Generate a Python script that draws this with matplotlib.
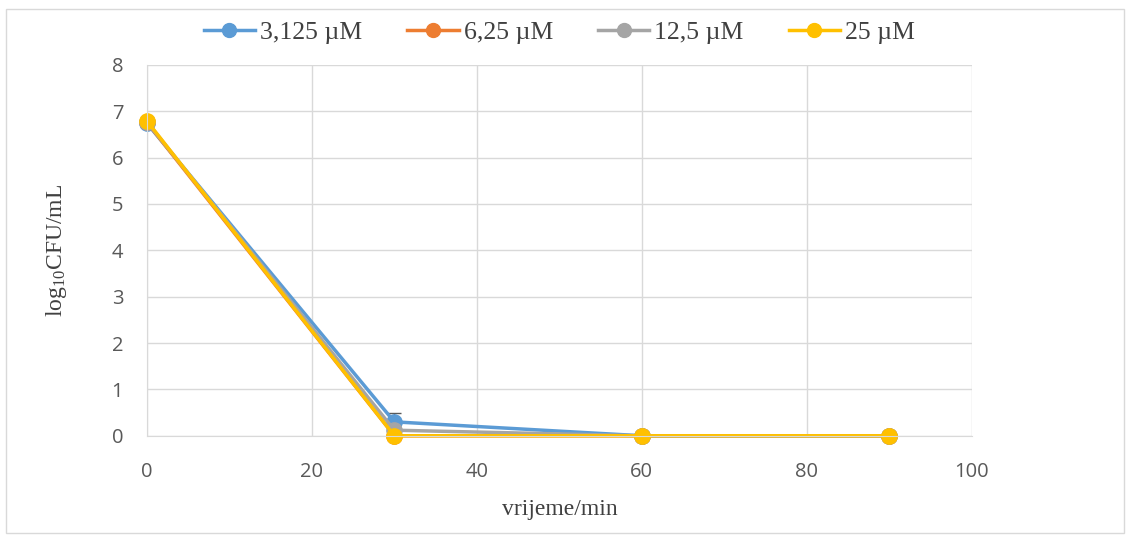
import matplotlib.pyplot as plt
from matplotlib.ticker import MultipleLocator
from matplotlib.lines import Line2D

plt.rcParams['mathtext.fontset'] = 'custom'
plt.rcParams['mathtext.rm'] = 'Liberation Serif'
plt.rcParams['mathtext.it'] = 'Liberation Serif:italic'

# time points (min)
time = [0, 30, 60, 90]

# log10 CFU/mL for each concentration
c3125 = [6.74, 0.30, 0.0, 0.0]
c625 = [6.76, 0.0, 0.0, 0.0]
c125 = [6.77, 0.12, 0.0, 0.0]
c25 = [6.79, 0.0, 0.0, 0.0]

err3125 = [0, 0.2, 0, 0]

labels = ["3,125 \u00b5M", "6,25 \u00b5M", "12,5 \u00b5M", "25 \u00b5M"]
colors = ["#5B9BD5", "#ED7D31", "#A5A5A5", "#FFC000"]

fig = plt.figure(figsize=(11.30, 5.36), dpi=100)
ax = fig.add_axes([0.130, 0.187, 0.730, 0.692])

series = [c3125, c625, c125, c25]
for i, vals in enumerate(series):
    yerr = err3125 if i == 0 else None
    lines = ax.errorbar(time, vals, yerr=yerr, color=colors[i], lw=2.5,
                        marker="o", ms=11, ecolor="#595959", elinewidth=1,
                        capsize=5, capthick=1)
    lines[0].set_clip_on(False)

ax.set_xlim(0, 100)
ax.set_ylim(0, 8)
ax.xaxis.set_major_locator(MultipleLocator(20))
ax.yaxis.set_major_locator(MultipleLocator(1))
ax.grid(True, color="#D9D9D9", lw=1)
ax.set_axisbelow(True)
for side in ["top", "right"]:
    ax.spines[side].set_visible(False)
ax.spines["left"].set_color("#D9D9D9")
ax.spines["bottom"].set_color("#D9D9D9")
ax.tick_params(length=0, labelsize=14.5, colors="#595959")
ax.tick_params(axis="x", pad=19)
ax.tick_params(axis="y", pad=17)
for lab in ax.get_xticklabels() + ax.get_yticklabels():
    lab.set_fontfamily("Open Sans")

ax.set_xlabel("vrijeme/min", family="Liberation Serif", fontsize=17,
              color="#404040", labelpad=12)
ax.set_ylabel(r"$\mathrm{log}_{10}$CFU/mL", family="Liberation Serif", fontsize=17,
              color="#404040", labelpad=31)

handles = [Line2D([], [], color=c, lw=2.5, marker="o", ms=10) for c in colors]
leg = ax.legend(handles, labels, loc="lower center", bbox_to_anchor=(0.5, 0.995), ncol=4,
                frameon=False, prop={"family": "Liberation Serif", "size": 18.5},
                handlelength=2.0, columnspacing=1.75, handletextpad=0.2)
for t in leg.get_texts():
    t.set_color("#404040")

# light frame around the chart
fig.patches.append(plt.Rectangle((0.005, 0.005), 0.99, 0.978, transform=fig.transFigure,
                                 fill=False, edgecolor="#D9D9D9", lw=1))

fig.savefig("out.png", dpi=100)
